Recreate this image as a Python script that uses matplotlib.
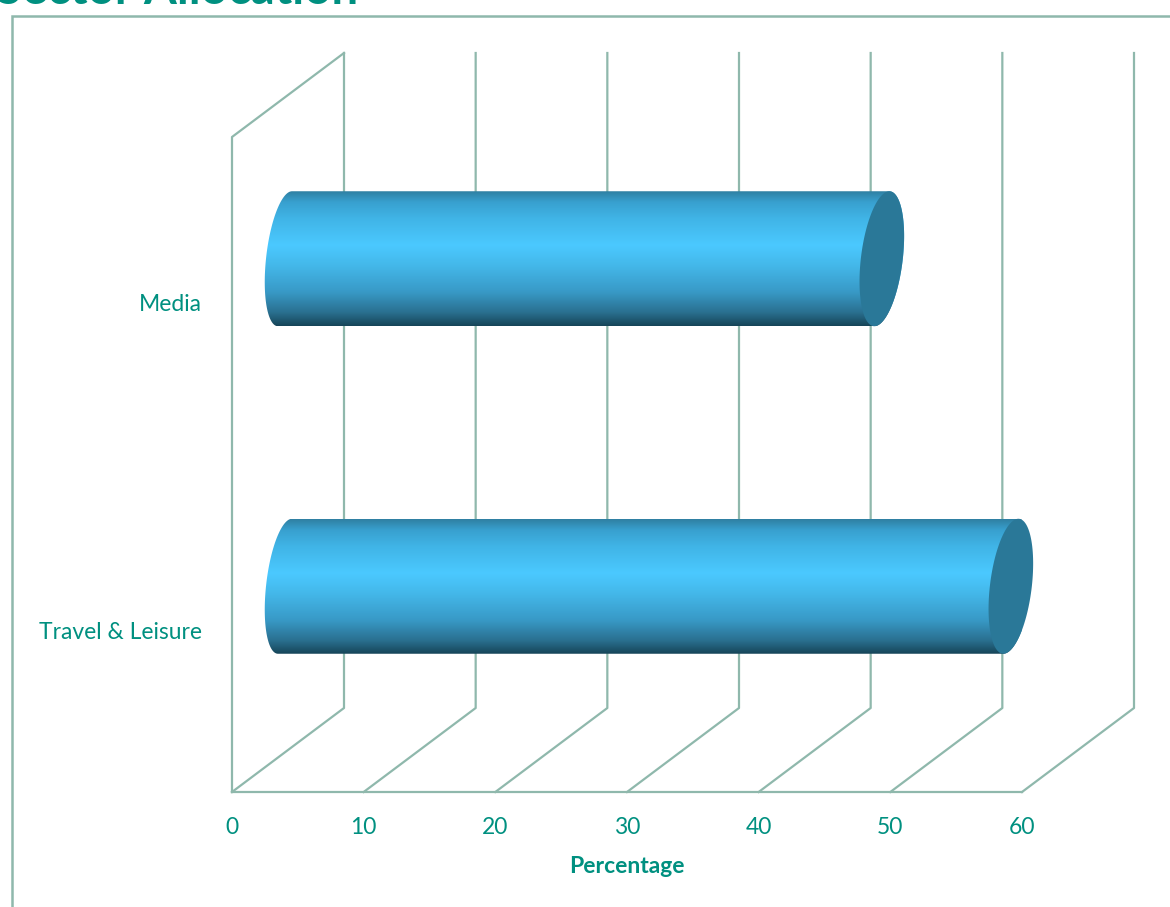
import numpy as np
import matplotlib
matplotlib.use('Agg')
import matplotlib.pyplot as plt
from matplotlib.colors import LinearSegmentedColormap
from matplotlib.patches import Polygon, Rectangle
from matplotlib.transforms import ScaledTranslation

categories = ['Travel & Leisure', 'Media']
values = [54.9, 45.1]
x_ticks = [0, 10, 20, 30, 40, 50, 60]

W, H = 1170, 907
GRID = '#8fb8ac'
TEAL = '#009080'
CAP = '#2a7898'

plt.rcParams['font.family'] = ['Lato', 'DejaVu Sans']

fig = plt.figure(figsize=(W / 100, H / 100), dpi=100)
# front plane of the 3d box
ax = fig.add_axes([232 / W, 1 - 792 / H, 790 / W, 655 / H])
ax.set_xlim(0, 60)
ax.set_ylim(-0.5, 1.5)
for s in ax.spines.values():
    s.set_visible(False)

# depth of the box, in data units
px_x = 790 / 60
px_y = 655 / 2
depth_x = 112 / px_x
depth_y = 84 / px_y
half_h = 67.5 / px_y

# walls and grid lines
ax.plot([0, 60], [-0.5, -0.5], color=GRID, lw=1.6, clip_on=False, zorder=1)
ax.plot([0, 0, depth_x], [-0.5, 1.5, 1.5 + depth_y], color=GRID, lw=1.6, clip_on=False, zorder=1)
for t in x_ticks:
    ax.plot([t, t + depth_x, t + depth_x], [-0.5, -0.5 + depth_y, 1.5 + depth_y],
            color=GRID, lw=1.6, clip_on=False, zorder=1)

grad = LinearSegmentedColormap.from_list('tube', [
    (0.0, '#2f80a2'), (0.08, '#38a0cf'), (0.2, '#40b4e6'), (0.4, '#4bc9ff'), (0.55, '#44b8ea'),
    (0.75, '#3899c6'), (0.9, '#2a7090'), (1.0, '#164558')])


def ellipse(cx, cy, u, v, start, stop):
    t = np.radians(np.linspace(start, stop, 120))
    return np.column_stack([cx + u * np.cos(t) + v * np.sin(t), cy + half_h * np.sin(t)])


def draw_tube(pos, value):
    x0 = depth_x / 2 - 3 / px_x
    x1 = value + depth_x / 2
    cy = pos + depth_y / 2
    # near end is a bit narrower than the far cap
    left = ellipse(x0, cy, 19 / px_x, 7 / px_x, 90, 270)
    right = ellipse(x1, cy, 21 / px_x, 7.5 / px_x, 270, 450)
    clip = Polygon(np.vstack([left, right]), closed=True, transform=ax.transData, fc='none', ec='none')
    ax.add_patch(clip)
    img = ax.imshow(np.linspace(0, 1, 256).reshape(-1, 1), cmap=grad, aspect='auto', origin='upper',
                    extent=[x0 - 3, x1 + 4, cy - half_h, cy + half_h], zorder=3)
    img.set_clip_path(clip)
    ax.add_patch(Polygon(ellipse(x1, cy, 21 / px_x, 7.5 / px_x, 0, 360), closed=True, fc=CAP, ec='none',
                         clip_on=False, zorder=4))


for i, v in enumerate(values):
    draw_tube(i, v)
ax.set_xlim(0, 60)
ax.set_ylim(-0.5, 1.5)

ax.set_xticks(x_ticks)
ax.set_yticks(range(len(categories)))
ax.set_yticklabels(categories)
ax.tick_params(axis='x', length=0, pad=18, labelsize=16.5, labelcolor=TEAL)
ax.tick_params(axis='y', length=0, pad=21.6, labelsize=16.5, labelcolor=TEAL)
for lab in ax.get_yticklabels():
    lab.set_transform(lab.get_transform() + ScaledTranslation(0, -2 / 100, fig.dpi_scale_trans))
ax.set_xlabel('Percentage', fontsize=16.5, fontweight='bold', color=TEAL, labelpad=13)

# outer frame runs off the picture on the right and bottom
fig.add_artist(Rectangle((11.5 / W, -0.1), 1.2, 1 - 15.5 / H + 0.1, transform=fig.transFigure,
                         fc='none', ec=GRID, lw=1.8))
fig.text(-4 / W, 1 - 4 / H, 'Sector Allocation', fontsize=34, fontweight='bold', color=TEAL,
         ha='left', va='baseline')

fig.savefig('out.png', dpi=100)
